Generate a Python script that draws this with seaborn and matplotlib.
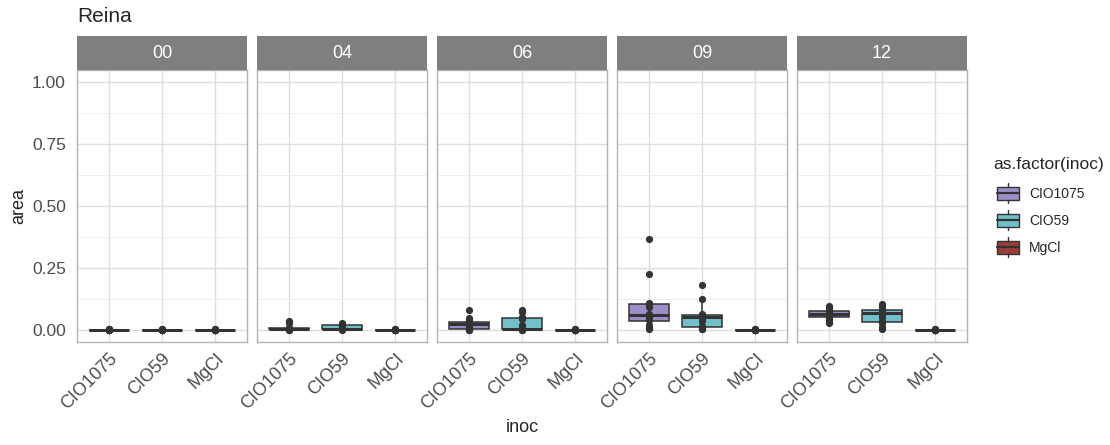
import numpy as np
import pandas as pd
import matplotlib
matplotlib.use("Agg")
import matplotlib.pyplot as plt
from matplotlib.patches import Rectangle
from matplotlib.lines import Line2D
import seaborn as sns

# ---- data -------------------------------------------------------------
days = ["00", "04", "06", "09", "12"]
inocs = ["CIO1075", "CIO59", "MgCl"]
colors = ["#9d8ec7", "#72c0ca", "#9e3a3a"]

area_00_CIO1075 = [0.0, 0.0, 0.0, 0.001, 0.0, 0.0, 0.001, 0.0, 0.0, 0.0, 0.0, 0.001]
area_00_CIO59 = [0.0, 0.0, 0.001, 0.0, 0.0, 0.0, 0.0, 0.001, 0.0, 0.0, 0.0, 0.0]
area_00_MgCl = [0.0, 0.0, 0.0, 0.0, 0.001, 0.0, 0.0, 0.0, 0.0, 0.001, 0.0, 0.0]

area_04_CIO1075 = [0.0, 0.0, 0.001, 0.001, 0.002, 0.003, 0.004, 0.005, 0.007, 0.008, 0.025, 0.034]
area_04_CIO59 = [0.0, 0.001, 0.002, 0.002, 0.003, 0.004, 0.005, 0.012, 0.018, 0.022, 0.024, 0.026]
area_04_MgCl = [0.0, 0.0, 0.0, 0.001, 0.0, 0.0, 0.001, 0.0, 0.0, 0.0, 0.0, 0.0]

area_06_CIO1075 = [0.0, 0.0, 0.001, 0.002, 0.012, 0.020, 0.025, 0.027, 0.030, 0.040, 0.047, 0.080]
area_06_CIO59 = [0.0, 0.0, 0.001, 0.001, 0.002, 0.003, 0.005, 0.020, 0.045, 0.052, 0.070, 0.081]
area_06_MgCl = [0.0, 0.0, 0.0, 0.0, 0.001, 0.0, 0.0, 0.0, 0.001, 0.0, 0.0, 0.0]

area_09_CIO1075 = [0.003, 0.008, 0.020, 0.038, 0.042, 0.050, 0.065, 0.090, 0.104, 0.106, 0.225, 0.367]
area_09_CIO59 = [0.002, 0.004, 0.007, 0.014, 0.035, 0.048, 0.052, 0.055, 0.058, 0.063, 0.124, 0.182]
area_09_MgCl = [0.0, 0.0, 0.001, 0.0, 0.0, 0.0, 0.0, 0.001, 0.0, 0.0, 0.0, 0.0]

area_12_CIO1075 = [0.025, 0.035, 0.045, 0.052, 0.058, 0.062, 0.064, 0.068, 0.072, 0.078, 0.088, 0.097]
area_12_CIO59 = [0.004, 0.012, 0.025, 0.035, 0.050, 0.062, 0.070, 0.075, 0.079, 0.085, 0.095, 0.104]
area_12_MgCl = [0.0, 0.0, 0.0, 0.001, 0.0, 0.0, 0.0, 0.0, 0.0, 0.001, 0.0, 0.0]

series = {
    ("00", "CIO1075"): area_00_CIO1075, ("00", "CIO59"): area_00_CIO59, ("00", "MgCl"): area_00_MgCl,
    ("04", "CIO1075"): area_04_CIO1075, ("04", "CIO59"): area_04_CIO59, ("04", "MgCl"): area_04_MgCl,
    ("06", "CIO1075"): area_06_CIO1075, ("06", "CIO59"): area_06_CIO59, ("06", "MgCl"): area_06_MgCl,
    ("09", "CIO1075"): area_09_CIO1075, ("09", "CIO59"): area_09_CIO59, ("09", "MgCl"): area_09_MgCl,
    ("12", "CIO1075"): area_12_CIO1075, ("12", "CIO59"): area_12_CIO59, ("12", "MgCl"): area_12_MgCl,
}
rows = [(d, i, v) for (d, i), vals in series.items() for v in vals]
df = pd.DataFrame(rows, columns=["day", "inoc", "area"])

# ---- style ------------------------------------------------------------
sns.set_style("white")
plt.rcParams["font.family"] = ["Liberation Sans", "DejaVu Sans"]

W, H = 1110, 445
fig = plt.figure(figsize=(W / 100, H / 100), dpi=100)
pal = dict(zip(inocs, colors))

panel_left = [77, 257, 437, 617, 797]
panel_w = 170
top, bottom = 70, 342
strip_top = 36

tick_col = "#4d4d4d"
border_col = "#b3b3b3"
grid_major = "#dedede"
grid_minor = "#ececec"


def px_rect(x, y_top, w, h):
    return [x / W, 1 - (y_top + h) / H, w / W, h / H]


for k, day in enumerate(days):
    ax = fig.add_axes(px_rect(panel_left[k], top, panel_w, bottom - top))
    sub = df[df["day"] == day]
    sns.boxplot(data=sub, x="inoc", y="area", hue="inoc", order=inocs, hue_order=inocs,
                palette=pal, saturation=1, dodge=False, width=0.75, showfliers=False,
                showcaps=False, linecolor="#333333", linewidth=1.1,
                medianprops=dict(linewidth=2.2), legend=False, ax=ax, zorder=3)
    sns.stripplot(data=sub, x="inoc", y="area", order=inocs, jitter=False,
                  color="#333333", size=5.2, ax=ax, zorder=4)
    ax.set_xlim(-0.6, 2.6)
    ax.set_ylim(-0.05, 1.05)
    ax.set_yticks([0, 0.25, 0.5, 0.75, 1.0])
    ax.set_yticks([0.125, 0.375, 0.625, 0.875], minor=True)
    ax.grid(True, which="major", color=grid_major, linewidth=1.0, zorder=0)
    ax.grid(True, which="minor", axis="y", color=grid_minor, linewidth=0.6, zorder=0)
    ax.set_axisbelow(True)
    for s in ax.spines.values():
        s.set_color(border_col)
        s.set_linewidth(1.0)
    ax.set_xlabel("")
    ax.set_ylabel("")
    ax.tick_params(axis="x", length=4, color=border_col, labelsize=13, labelcolor=tick_col, pad=2)
    ax.tick_params(axis="y", which="minor", length=0)
    ax.set_xticks(range(3))
    ax.set_xticklabels(inocs, rotation=45, ha="right", va="top", rotation_mode="anchor")
    if k == 0:
        ax.tick_params(axis="y", length=4, color=border_col, labelsize=12.5, labelcolor=tick_col, pad=4)
        ax.set_yticklabels(["0.00", "0.25", "0.50", "0.75", "1.00"])
    else:
        ax.tick_params(axis="y", length=0, labelleft=False)

    # facet strip
    sax = fig.add_axes(px_rect(panel_left[k], strip_top, panel_w, top - strip_top))
    sax.set_facecolor("#7f7f7f")
    sax.set_xticks([])
    sax.set_yticks([])
    for s in sax.spines.values():
        s.set_visible(False)
    sax.text(0.5, 0.5, day, color="white", fontsize=13, ha="center", va="center",
             transform=sax.transAxes)

# titles
fig.text(77 / W, 1 - 17 / H, "Reina", fontsize=15, ha="left", va="center")
fig.text(19 / W, 1 - 206 / H, "area", fontsize=13, rotation=90, ha="center", va="center")
fig.text(522 / W, 1 - 428 / H, "inoc", fontsize=13, ha="center", va="center")

# legend
lax = fig.add_axes([0, 0, 1, 1], zorder=5)
lax.set_xlim(0, W)
lax.set_ylim(H, 0)
lax.axis("off")
lax.text(993, 165, "as.factor(inoc)", fontsize=12.5, ha="left", va="center")
key_y = [193, 220, 247]
for name, col, yc in zip(inocs, colors, key_y):
    x0, x1 = 997, 1019
    lax.add_patch(Rectangle((x0, yc - 6.5), x1 - x0, 13, facecolor=col, edgecolor="#333333", linewidth=1.0))
    lax.add_line(Line2D([x0, x1], [yc, yc], color="#333333", linewidth=1.6))
    xm = (x0 + x1) / 2
    lax.add_line(Line2D([xm, xm], [yc - 10, yc - 6.5], color="#333333", linewidth=1.0))
    lax.add_line(Line2D([xm, xm], [yc + 6.5, yc + 10], color="#333333", linewidth=1.0))
    lax.text(1029, yc + 1, name, fontsize=10, ha="left", va="center")

fig.savefig("out.png", dpi=100, facecolor="white")
